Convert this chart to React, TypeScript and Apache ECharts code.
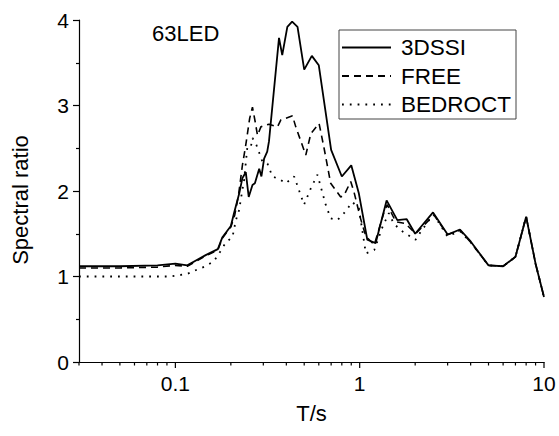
import React, { useEffect, useRef } from "react";
import * as echarts from "echarts";

// ---- data ----
const ssiPeriods = [0.03, 0.05, 0.08, 0.1, 0.116, 0.13, 0.146, 0.17, 0.18, 0.2, 0.208, 0.222, 0.231, 0.241, 0.25, 0.262, 0.27, 0.285, 0.293, 0.303, 0.315, 0.322, 0.365, 0.38, 0.405, 0.43, 0.46, 0.5, 0.55, 0.6, 0.7, 0.8, 0.9, 0.99, 1.1, 1.22, 1.4, 1.6, 1.8, 2.0, 2.5, 3.0, 3.5, 4.0, 5.0, 6.0, 7.0, 8.0, 9.0, 10];
const ssiValues = [1.12, 1.12, 1.13, 1.15, 1.13, 1.19, 1.25, 1.32, 1.46, 1.59, 1.74, 1.97, 2.15, 2.22, 1.93, 2.07, 2.09, 2.26, 2.17, 2.38, 2.46, 2.58, 3.79, 3.59, 3.92, 3.98, 3.92, 3.42, 3.58, 3.47, 2.48, 2.17, 2.3, 1.97, 1.43, 1.39, 1.89, 1.66, 1.67, 1.5, 1.75, 1.49, 1.55, 1.41, 1.13, 1.12, 1.23, 1.7, 1.15, 0.76];

const freePeriods = [0.03, 0.05, 0.08, 0.1, 0.116, 0.13, 0.146, 0.17, 0.18, 0.2, 0.21, 0.22, 0.231, 0.241, 0.253, 0.262, 0.271, 0.279, 0.291, 0.309, 0.322, 0.358, 0.373, 0.432, 0.45, 0.51, 0.543, 0.602, 0.641, 0.696, 0.789, 0.822, 0.894, 0.931, 1.01, 1.08, 1.2, 1.35, 1.41, 1.57, 1.77, 2.01, 2.53, 2.99, 3.5, 4.0, 5.0, 6.0, 7.0, 8.0, 9.0, 10];
const freeValues = [1.1, 1.1, 1.11, 1.13, 1.12, 1.18, 1.24, 1.31, 1.45, 1.58, 1.72, 1.95, 2.3, 2.54, 2.85, 2.98, 2.81, 2.65, 2.75, 2.77, 2.78, 2.75, 2.83, 2.88, 2.75, 2.42, 2.67, 2.79, 2.5, 2.09, 1.93, 1.95, 2.11, 1.99, 1.68, 1.47, 1.37, 1.74, 1.84, 1.64, 1.62, 1.5, 1.72, 1.49, 1.54, 1.4, 1.13, 1.12, 1.23, 1.7, 1.15, 0.76];

const rockPeriods = [0.03, 0.05, 0.08, 0.094, 0.116, 0.131, 0.146, 0.162, 0.175, 0.188, 0.204, 0.213, 0.222, 0.226, 0.236, 0.246, 0.257, 0.262, 0.275, 0.297, 0.316, 0.336, 0.365, 0.397, 0.441, 0.479, 0.499, 0.543, 0.59, 0.654, 0.696, 0.757, 0.822, 0.913, 0.99, 1.08, 1.2, 1.33, 1.44, 1.53, 1.67, 2.01, 2.14, 2.38, 2.53, 2.99, 3.5, 4.0, 5.0, 6.0, 7.0, 8.0, 9.0, 10];
const rockValues = [1.0, 1.0, 1.0, 1.0, 1.03, 1.08, 1.12, 1.18, 1.29, 1.4, 1.46, 1.66, 1.78, 1.89, 2.13, 2.52, 2.52, 2.62, 2.54, 2.34, 2.32, 2.17, 2.14, 2.09, 2.17, 1.95, 1.84, 2.03, 2.19, 1.84, 1.68, 1.66, 1.74, 1.87, 1.8, 1.27, 1.31, 1.58, 1.74, 1.62, 1.54, 1.43, 1.52, 1.66, 1.72, 1.47, 1.53, 1.4, 1.13, 1.12, 1.23, 1.7, 1.15, 0.76];

const seriesNames = ["3DSSI", "FREE", "BEDROCT"];
const xTickValues = [0.03, 0.04, 0.05, 0.06, 0.07, 0.08, 0.09, 0.1, 0.2, 0.3, 0.4, 0.5, 0.6, 0.7, 0.8, 0.9, 1, 2, 3, 4, 5, 6, 7, 8, 9, 10];
const xMajorLabels = [0.1, 1, 10];
const stationLabel = "63LED";
const xName = "T/s";
const yName = "Spectral ratio";

const FONT = "'Liberation Sans', Arial, sans-serif";

const zip = (xs: number[], ys: number[]) => xs.map((x, i) => [x, ys[i]]);

export default function App() {
  const ref = useRef<HTMLDivElement>(null);
  useEffect(() => {
    if (!ref.current) return;
    const chart = echarts.init(ref.current, null, { renderer: "svg" });
    const isMajor = (v: number) => xMajorLabels.some((m) => Math.abs(m - v) < 1e-9);
    chart.setOption({
      animation: false,
      backgroundColor: "#fff",
      textStyle: { fontFamily: FONT },
      grid: { left: 79, right: 15, top: 20, bottom: 74 },
      legend: {
        data: seriesNames,
        orient: "vertical",
        left: 339,
        top: 30,
        itemWidth: 49,
        itemHeight: 12,
        itemGap: 5.5,
        padding: [6, 5, 3, 2],
        borderColor: "#444",
        borderWidth: 1,
        itemStyle: { opacity: 0, color: "rgba(0,0,0,0)", borderWidth: 0 },
        textStyle: { fontSize: 22.5, color: "#000", fontFamily: FONT, padding: [0, 0, 0, 5] },
      },
      xAxis: {
        type: "log",
        logBase: 10,
        min: 0.03,
        max: 10,
        axisLine: { lineStyle: { color: "#000", width: 1.2 } },
        axisTick: { show: false },
        splitLine: { show: false },
        axisLabel: {
          color: "#000",
          fontSize: 21,
          margin: 11,
          showMinLabel: false,
          formatter: (v: number) => (isMajor(v) ? String(v) : ""),
        },
        name: xName,
        nameLocation: "middle",
        nameGap: 40,
        nameTextStyle: { fontSize: 22, color: "#000" },
      },
      yAxis: {
        type: "value",
        min: 0,
        max: 4,
        interval: 1,
        axisLine: { show: true, lineStyle: { color: "#000", width: 1.2 } },
        axisTick: { show: true, length: 6, lineStyle: { color: "#000", width: 1.2 } },
        minorTick: { show: true, splitNumber: 2, length: 3, lineStyle: { color: "#000", width: 1.2 } },
        splitLine: { show: false },
        axisLabel: { color: "#000", fontSize: 21, margin: 10 },
      },
      graphic: [
        {
          type: "text",
          left: 152,
          top: 22,
          style: { text: stationLabel, fontSize: 22, fill: "#000", fontFamily: FONT },
        },
        {
          type: "text",
          x: 20,
          y: 200,
          rotation: Math.PI / 2,
          style: {
            text: yName,
            fontSize: 22,
            fill: "#000",
            fontFamily: FONT,
            align: "center",
            verticalAlign: "middle",
          },
        },
      ],
      series: [
        {
          name: "3DSSI",
          type: "line",
          data: zip(ssiPeriods, ssiValues),
          symbol: "none",
          lineStyle: { color: "#000", width: 1.8, type: "solid" },
          itemStyle: { color: "#000" },
          z: 5,
        },
        {
          name: "FREE",
          type: "line",
          data: zip(freePeriods, freeValues),
          symbol: "none",
          lineStyle: { color: "#000", width: 1.6, type: [7, 5] },
          itemStyle: { color: "#000" },
          z: 4,
        },
        {
          name: "BEDROCT",
          type: "line",
          data: zip(rockPeriods, rockValues),
          symbol: "none",
          lineStyle: { color: "#000", width: 1.8, type: [1.8, 6] },
          itemStyle: { color: "#000" },
          z: 3,
        },
        {
          name: "xticks",
          type: "custom",
          clip: false,
          silent: true,
          data: xTickValues.map((t) => [t, 0]),
          encode: { x: 0, y: 1 },
          renderItem: (params: any, api: any) => {
            const v = api.value(0);
            const p = api.coord([v, 0]);
            const len = isMajor(v) ? 6 : 3.5;
            return {
              type: "line",
              shape: { x1: p[0], y1: p[1], x2: p[0], y2: p[1] + len },
              style: { stroke: "#000", lineWidth: 1.2 },
            };
          },
        },
      ],
    });
    return () => chart.dispose();
  }, []);
  return (
    <div
      ref={ref}
      style={{ position: "fixed", left: 0, top: 0, width: 559, height: 436, background: "#fff" }}
    />
  );
}
